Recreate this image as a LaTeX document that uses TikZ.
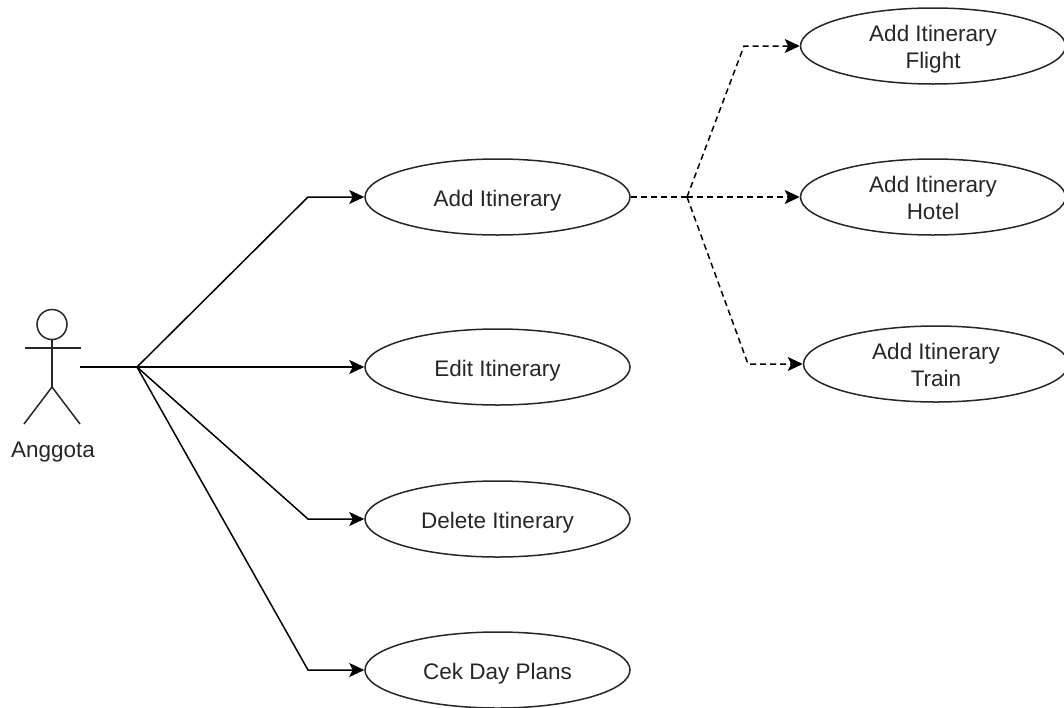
\documentclass[tikz,border=0pt]{standalone}
\usepackage{fontspec}
\setmainfont{Liberation Sans}
\usetikzlibrary{arrows.meta,shapes.geometric}
\newcommand{\uctop}{\rule{0pt}{24pt}}
\newcommand{\ucbot}{\rule[-6pt]{0pt}{6pt}}
\tikzset{
  x=1pt,y=-1pt,
  usecase/.style={ellipse,draw=black!85,line width=1.5pt,minimum width=265pt,minimum height=76pt,inner xsep=0pt,inner ysep=-6pt,align=center,font=\fontsize{22.5}{27}\selectfont,text=black!85},
  actorline/.style={draw=black!85,line width=1.5pt},
  link/.style={draw=black,line width=1.5pt,-{Stealth[length=15pt,width=14pt,inset=3.5pt]}},
  solidpart/.style={draw=black,line width=1.5pt},
  dashlink/.style={link,dash pattern=on 6pt off 4pt},
  dashpart/.style={solidpart,dash pattern=on 6pt off 4pt},
}
\begin{document}
\begin{tikzpicture}
\useasboundingbox (0,0) rectangle (1064,707);
\node[usecase] (add) at (497.5,197) {\uctop Add Itinerary\ucbot};
\node[usecase] (edit) at (497.5,367) {\uctop Edit Itinerary\ucbot};
\node[usecase] (del) at (497.5,519) {\uctop Delete Itinerary\ucbot};
\node[usecase] (cek) at (497.5,670) {\uctop Cek Day Plans\ucbot};
\node[usecase] (flight) at (933,46) {\uctop Add Itinerary\\Flight\ucbot};
\node[usecase] (hotel) at (933,197) {\uctop Add Itinerary\\Hotel\ucbot};
\node[usecase] (train) at (936,364) {\uctop Add Itinerary\\Train\ucbot};
% actor
\node[circle,actorline,minimum size=30pt,inner sep=0pt] (head) at (52,324.5) {};
\coordinate (hip) at (52,387);
\coordinate (larm) at (25,348);
\coordinate (rarm) at (81,348);
\coordinate (lfoot) at (24,424);
\coordinate (rfoot) at (80,424);
\draw[actorline] (head.south) -- (hip);
\draw[actorline] (larm) -- (rarm);
\draw[actorline] (lfoot) -- (hip) -- (rfoot);
\node[font=\fontsize{22.5}{27}\selectfont,text=black!85] (anggota) at (53,452) {Anggota};
% junctions
\coordinate (start) at (80,367);
\coordinate (j) at (137,367);
\coordinate (ja) at (308,197);
\coordinate (jd) at (308,519);
\coordinate (jc) at (308,670);
\coordinate (k) at (687,197);
\coordinate (kf) at (744,46);
\coordinate (kt) at (748,364);
\draw[solidpart] (start) -- (j);
\draw[link] (j) -- (ja) -- (add.west);
\draw[link] (j) -- (edit.west);
\draw[link] (j) -- (jd) -- (del.west);
\draw[link] (j) -- (jc) -- (cek.west);
\draw[dashpart] (add.east) -- (k);
\draw[dashlink] (k) -- (kf) -- (flight.west);
\draw[dashlink] (k) -- (hotel.west);
\draw[dashlink] (k) -- (kt) -- (train.west);
\end{tikzpicture}
\end{document}
